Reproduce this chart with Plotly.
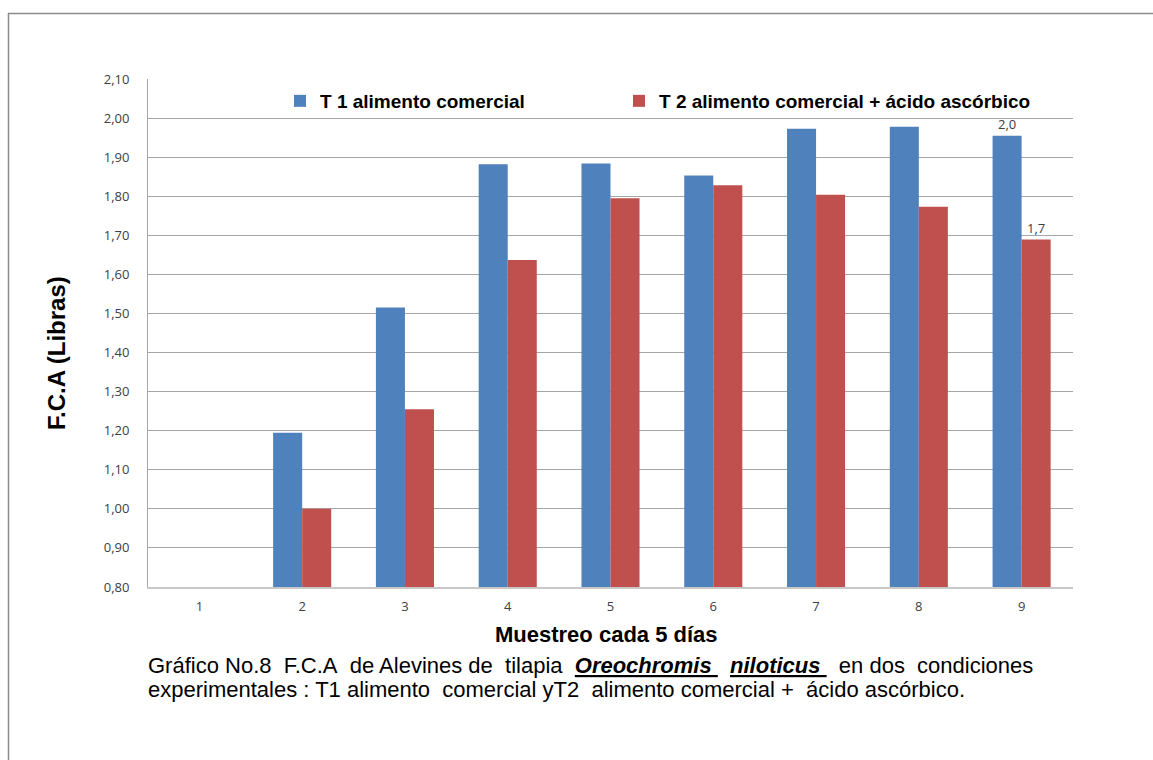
import plotly.graph_objects as go

# Sampling points (every 5 days)
muestreo = ["1", "2", "3", "4", "5", "6", "7", "8", "9"]

# Feed conversion (F.C.A) per treatment; first sampling has no value
t1_comercial = [None, 1.195, 1.515, 1.882, 1.884, 1.853, 1.973, 1.978, 1.955]
t2_ascorbico = [None, 1.000, 1.255, 1.637, 1.795, 1.828, 1.804, 1.773, 1.689]

serie_t1 = "T 1 alimento comercial"
serie_t2 = "T 2 alimento comercial + ácido ascórbico"

y_ticks = [0.80, 0.90, 1.00, 1.10, 1.20, 1.30, 1.40, 1.50, 1.60, 1.70, 1.80, 1.90, 2.00, 2.10]

W, H = 1153, 760
L, R, T, B = 148, 1073, 79, 587


def etiqueta_final(vals):
    # value label only on the last sampling point, one decimal, comma separator
    out = []
    for i, v in enumerate(vals):
        if i == len(vals) - 1 and v is not None:
            out.append(f"{v:.1f}".replace(".", ","))
        else:
            out.append("")
    return out


label_font = dict(family="Open Sans, Lato, sans-serif", size=13, color="#404040")

fig = go.Figure()
fig.add_trace(go.Bar(
    x=muestreo, y=t1_comercial, name=serie_t1, legend="legend",
    marker=dict(color="#4F81BD", line=dict(width=0)),
    text=etiqueta_final(t1_comercial), textposition="outside",
    textfont=label_font, cliponaxis=False,
))
fig.add_trace(go.Bar(
    x=muestreo, y=t2_ascorbico, name=serie_t2, legend="legend2",
    marker=dict(color="#C0504D", line=dict(width=0)),
    text=etiqueta_final(t2_ascorbico), textposition="outside",
    textfont=label_font, cliponaxis=False,
))


def px_x(px):
    return (px - L) / (R - L)


def px_y(py):
    return (B - py) / (B - T)


tick_font = dict(family="Open Sans, Lato, sans-serif", size=13, color="#404040")
legend_font = dict(family="Liberation Sans, Arial, sans-serif", size=19, color="black", weight="bold")


def leyenda(x_px):
    return dict(
        orientation="h", x=px_x(x_px), y=px_y(101), xanchor="left", yanchor="middle",
        font=legend_font, bgcolor="rgba(0,0,0,0)", itemclick=False, itemdoubleclick=False,
    )


fig.update_layout(
    width=W, height=H,
    margin=dict(l=L, r=W - R, t=T, b=H - B, pad=0),
    paper_bgcolor="white", plot_bgcolor="white",
    separators=",.",
    barmode="group", bargap=0.435, bargroupgap=0,
    showlegend=True,
    legend=leyenda(280),
    legend2=leyenda(619),
    xaxis=dict(
        type="category", showgrid=False, ticks="", tickfont=tick_font,
        showline=True, linecolor="#C8C8C8", linewidth=2, ticklabelstandoff=6,
    ),
    yaxis=dict(
        range=[0.80, 2.10], tickvals=y_ticks, tickformat=".2f",
        showgrid=True, gridcolor="#A6A6A6", gridwidth=1, zeroline=False,
        showline=True, linecolor="#A6A6A6", linewidth=1, ticks="",
        tickfont=tick_font, ticklabelstandoff=15,
    ),
    font=dict(family="Liberation Sans, Arial, sans-serif"),
)

# Axis titles
fig.add_annotation(
    text="<b>F.C.A (Libras)</b>", textangle=-90, xref="paper", yref="paper",
    x=px_x(57), y=px_y(353), xanchor="center", yanchor="middle", showarrow=False,
    font=dict(family="Liberation Sans, Arial, sans-serif", size=24, color="black"),
)
fig.add_annotation(
    text="<b>Muestreo cada 5 días</b>", xref="paper", yref="paper",
    x=px_x(606), y=px_y(634), xanchor="center", yanchor="middle", showarrow=False,
    font=dict(family="Liberation Sans, Arial, sans-serif", size=22, color="black"),
)

# Caption below the chart, one annotation per line
nb = "\u00a0"
linea1 = (f"Gráfico No.8{nb} F.C.A{nb} de Alevines de{nb} tilapia{nb} "
          f"<b><i><u>Oreochromis{nb}</u></i></b>{nb} <b><i><u>niloticus{nb}</u></i></b>{nb} "
          f"en dos{nb} condiciones")
linea2 = (f"experimentales : T1 alimento{nb} comercial yT2{nb} alimento comercial +{nb} "
          f"ácido ascórbico.")
caption_font = dict(family="Liberation Sans, Arial, sans-serif", size=22, color="black")
for texto, y_px in ((linea1, 665), (linea2, 689)):
    fig.add_annotation(
        text=texto, xref="paper", yref="paper",
        x=px_x(146), y=px_y(y_px), xanchor="left", yanchor="middle", align="left",
        showarrow=False, font=caption_font,
    )

# Outer frame (top and left edges)
fig.add_shape(type="line", xref="paper", yref="paper",
              x0=px_x(8), x1=px_x(1160), y0=px_y(13.5), y1=px_y(13.5),
              line=dict(color="#8C8C8C", width=1.5))
fig.add_shape(type="line", xref="paper", yref="paper",
              x0=px_x(8.5), x1=px_x(8.5), y0=px_y(13), y1=px_y(770),
              line=dict(color="#8C8C8C", width=1.5))

fig.write_html("out.html")
